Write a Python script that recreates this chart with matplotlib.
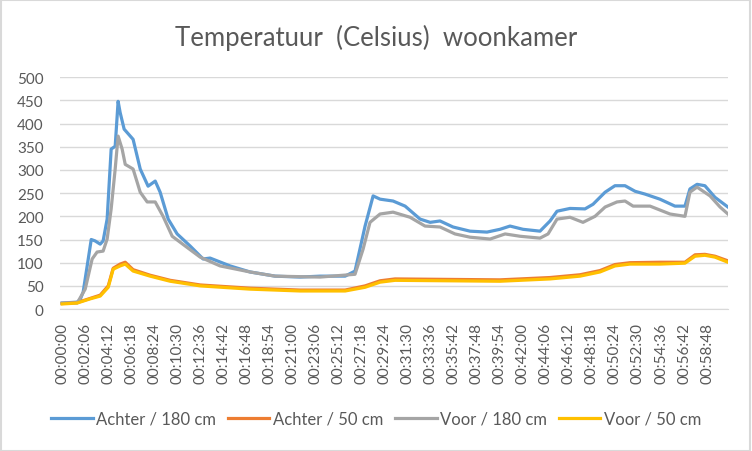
import matplotlib.pyplot as plt
from matplotlib.patches import Rectangle

plt.rcParams['font.family'] = ['Lato', 'DejaVu Sans']

# tijd in seconden sinds start
tick_labels = ['00:00:00', '00:02:06', '00:04:12', '00:06:18', '00:08:24', '00:10:30',
               '00:12:36', '00:14:42', '00:16:48', '00:18:54', '00:21:00', '00:23:06',
               '00:25:12', '00:27:18', '00:29:24', '00:31:30', '00:33:36', '00:35:42',
               '00:37:48', '00:39:54', '00:42:00', '00:44:06', '00:46:12', '00:48:18',
               '00:50:24', '00:52:30', '00:54:36', '00:56:42', '00:58:48']

t_achter180 = [0, 82, 98, 115, 159, 180, 208, 224, 246, 268, 290, 306, 317, 339, 388, 427,
               470, 509, 536, 580, 629, 700, 771, 809, 919, 1028, 1165, 1302, 1411, 1548,
               1602, 1657, 1701, 1739, 1810, 1876, 1958, 2013, 2067, 2138, 2231, 2324, 2395,
               2450, 2521, 2614, 2669, 2707, 2778, 2860, 2904, 2970, 3024, 3079, 3134, 3188,
               3270, 3352, 3407, 3434, 3473, 3516, 3571, 3642]
achter180 = [13, 15, 20, 37, 150, 147, 140, 147, 194, 345, 351, 448, 424, 388, 366, 302,
             265, 276, 252, 194, 162, 136, 108, 110, 93, 80, 71, 69, 71, 71,
             82, 179, 244, 237, 233, 222, 194, 187, 190, 177, 168, 166, 172,
             179, 172, 168, 190, 211, 217, 216, 226, 252, 266, 266, 254, 248,
             237, 222, 222, 259, 269, 266, 241, 220]

t_voor180 = [0, 82, 126, 164, 191, 224, 246, 268, 290, 306, 328, 345, 388, 427, 465, 509,
             552, 602, 673, 755, 864, 1028, 1165, 1411, 1602, 1646, 1684, 1739, 1810, 1903,
             1985, 2067, 2149, 2231, 2341, 2423, 2505, 2614, 2658, 2707, 2778, 2849, 2915,
             2970, 3035, 3079, 3123, 3216, 3325, 3407, 3434, 3473, 3544, 3599, 3642]
voor180 = [13, 13, 43, 108, 123, 125, 151, 216, 302, 373, 345, 312, 302, 252, 231, 231,
           200, 157, 136, 112, 93, 80, 71, 69, 75, 129, 187, 205, 209, 198,
           179, 177, 162, 155, 151, 162, 157, 153, 162, 194, 198, 187, 200,
           220, 231, 233, 222, 222, 205, 200, 252, 263, 244, 220, 205]

t_50 = [0, 82, 153, 208, 252, 279, 317, 345, 388, 481, 591, 755, 1028, 1302, 1548, 1657,
        1739, 1821, 2395, 2669, 2833, 2942, 3024, 3106, 3270, 3407, 3462, 3516, 3571, 3642]
achter50 = [12, 14, 23, 30, 50, 88, 97, 101, 85, 73, 62, 52, 45, 41, 41, 50,
            61, 65, 63, 68, 74, 83, 96, 100, 101, 101, 117, 118, 114, 104]
voor50 = [11, 13, 22, 28, 47, 86, 93, 97, 82, 71, 60, 50, 43, 39, 39, 47,
          58, 62, 60, 65, 71, 80, 93, 97, 97, 99, 114, 116, 112, 101]

fig = plt.figure(figsize=(7.52, 4.52), dpi=100)
ax = fig.add_axes([0.08, 0.314, 0.888, 0.513])

lw = 2.3
ax.plot(t_achter180, achter180, color='#5B9BD5', lw=lw, label='Achter / 180 cm')
ax.plot(t_50, achter50, color='#ED7D31', lw=lw, label='Achter / 50 cm')
ax.plot(t_voor180, voor180, color='#A5A5A5', lw=lw, label='Voor / 180 cm')
ax.plot(t_50, voor50, color='#FFC000', lw=lw, label='Voor / 50 cm')

ax.set_xlim(-11, 3642)
ax.set_ylim(0, 500)
ax.set_yticks(range(0, 501, 50))
ax.set_xticks([i * 126 for i in range(len(tick_labels))])
ax.set_xticklabels(tick_labels, rotation=90)
ax.tick_params(axis='both', length=0, labelsize=11, colors='#595959')
ax.tick_params(axis='x', pad=9)
ax.tick_params(axis='y', pad=12)
ax.grid(axis='y', color='#D9D9D9', lw=1)
ax.set_axisbelow(True)
for s in ['top', 'right', 'left']:
    ax.spines[s].set_visible(False)
ax.spines['bottom'].set_color('#D9D9D9')

fig.suptitle('Temperatuur  (Celsius)  woonkamer', y=0.945, fontsize=18.5, color='#595959')
fig.legend(loc='center', bbox_to_anchor=(0.5, 0.071), ncol=4, frameon=False,
           fontsize=12, labelcolor='#595959', handlelength=2.5, columnspacing=0.7,
           handletextpad=0.2)

fig.patches.append(Rectangle((0.001, 0.001), 0.996, 0.997, transform=fig.transFigure,
                             fill=False, edgecolor='#D9D9D9', lw=1.5))

fig.savefig('out.png', dpi=100)
